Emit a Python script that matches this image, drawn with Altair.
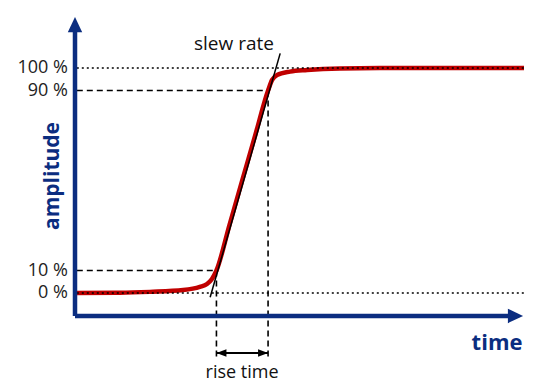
import altair as alt
import pandas as pd

# ---- data (time in arbitrary units 0..100, amplitude in %) ----
curve_t = [0, 10, 16.7, 24.1, 27.8, 29.4, 30.5, 31.5, 34.4, 37.2, 40.1, 43.0, 43.9, 45.0, 47.9, 51.7, 59.0, 67.9, 100]
curve_a = [0, 0.1, 0.5, 1.3, 2.7, 4.0, 6.2, 10, 30.2, 49.7, 69.8, 90, 94.7, 96.9, 98.4, 99.1, 99.8, 100, 100]

slew_t = [30.1, 45.7]
slew_a = [-1.9, 106.5]

level_labels = ["100 %", "90 %", "10 %", "0 %"]
level_values = [100, 90, 10, 0]

dotted_levels = [0, 100]
dashed_levels = [10, 90]
cross_times = [31.5, 43.0]

line_start = 0.4
line_end = 100
drop_to = -29.8
rise_arrow_a = -26.7

x_axis_a = -10.2
y_axis_top = 122.7
x_axis_end = 99.8

NAVY = "#0b2d80"
RED = "#c00000"

xs = alt.Scale(domain=[-14.922, 102.004], nice=False, zero=False)
ys = alt.Scale(domain=[-40.444, 126.667], nice=False, zero=False)


def X(f="t"):
    return alt.X(f"{f}:Q", scale=xs, axis=None)


def Y(f="a"):
    return alt.Y(f"{f}:Q", scale=ys, axis=None)


curve_df = pd.DataFrame({"t": curve_t, "a": curve_a})
curve = alt.Chart(curve_df).mark_line(color=RED, strokeWidth=4.5, interpolate="monotone").encode(
    x=X(), y=Y())

slew_df = pd.DataFrame({"t": slew_t, "a": slew_a})
slew = alt.Chart(slew_df).mark_line(color="black", strokeWidth=1.5).encode(x=X(), y=Y())

dotted_df = pd.DataFrame({"t": [line_start] * 2, "t2": [line_end] * 2, "a": dotted_levels})
dotted = alt.Chart(dotted_df).mark_rule(color="black", strokeWidth=1.6, strokeDash=[2, 3]).encode(
    x=X(), x2="t2:Q", y=Y())

dashed_h_df = pd.DataFrame({"t": [line_start] * 2, "t2": cross_times, "a": dashed_levels})
dashed_h = alt.Chart(dashed_h_df).mark_rule(color="black", strokeWidth=1.6, strokeDash=[6, 4]).encode(
    x=X(), x2="t2:Q", y=Y())

dashed_v_df = pd.DataFrame({"t": cross_times, "a": dashed_levels, "a2": [drop_to] * 2})
dashed_v = alt.Chart(dashed_v_df).mark_rule(color="black", strokeWidth=1.6, strokeDash=[6, 4]).encode(
    x=X(), y=Y(), y2="a2:Q")

# rise time double arrow
rise_df = pd.DataFrame({"t": [cross_times[0]], "t2": [cross_times[1]], "a": [rise_arrow_a]})
rise_line = alt.Chart(rise_df).mark_rule(color="black", strokeWidth=2).encode(x=X(), x2="t2:Q", y=Y())
rise_heads_df = pd.DataFrame({"t": cross_times, "a": [rise_arrow_a] * 2, "side": ["L", "R"]})
rise_left = alt.Chart(rise_heads_df[rise_heads_df.side == "L"]).mark_point(
    shape="M0,0L2,-0.75L2,0.75Z", size=100, filled=True, color="black", opacity=1).encode(x=X(), y=Y())
rise_right = alt.Chart(rise_heads_df[rise_heads_df.side == "R"]).mark_point(
    shape="M0,0L-2,-0.75L-2,0.75Z", size=100, filled=True, color="black", opacity=1).encode(x=X(), y=Y())

# axes
yaxis_df = pd.DataFrame({"t": [0], "a": [x_axis_a], "a2": [y_axis_top - 5]})
yaxis = alt.Chart(yaxis_df).mark_rule(color=NAVY, strokeWidth=4.5).encode(x=X(), y=Y(), y2="a2:Q")
xaxis_df = pd.DataFrame({"t": [0], "t2": [x_axis_end - 2], "a": [x_axis_a]})
xaxis = alt.Chart(xaxis_df).mark_rule(color=NAVY, strokeWidth=4.5).encode(x=X(), x2="t2:Q", y=Y())
up_df = pd.DataFrame({"t": [0], "a": [y_axis_top]})
up_head = alt.Chart(up_df).mark_point(shape="M0,0L-0.9,1.9L0.9,1.9Z", size=256, filled=True,
                                      color=NAVY, opacity=1).encode(x=X(), y=Y())
right_df = pd.DataFrame({"t": [x_axis_end], "a": [x_axis_a]})
right_head = alt.Chart(right_df).mark_point(shape="M0,0L-1.9,-0.9L-1.9,0.9Z", size=256, filled=True,
                                            color=NAVY, opacity=1).encode(x=X(), y=Y())

# texts
lab_df = pd.DataFrame({"t": [-1.6] * 4, "a": level_values, "label": level_labels})
labels = alt.Chart(lab_df).mark_text(align="right", baseline="middle", font="Open Sans", fontSize=18,
                                     color="#222222").encode(x=X(), y=Y(), text="label:N")

slew_txt_df = pd.DataFrame({"t": [35.4], "a": [110.7], "label": ["slew rate"]})
slew_txt = alt.Chart(slew_txt_df).mark_text(align="center", baseline="middle", font="Open Sans",
                                            fontSize=19, color="#111111").encode(
    x=X(), y=Y(), text="label:N")
rise_txt_df = pd.DataFrame({"t": [37.2], "a": [-37.6], "label": ["rise time"]})
rise_txt = alt.Chart(rise_txt_df).mark_text(align="center", baseline="alphabetic", font="Open Sans",
                                            fontSize=18, color="#111111").encode(
    x=X(), y=Y(), text="label:N")

amp_df = pd.DataFrame({"t": [-4.9], "a": [52], "label": ["amplitude"]})
amp = alt.Chart(amp_df).mark_text(align="center", baseline="middle", angle=270, font="Open Sans",
                                  fontSize=21, fontWeight="bold", color=NAVY).encode(
    x=X(), y=Y(), text="label:N")
time_df = pd.DataFrame({"t": [94.0], "a": [-22.2], "label": ["time"]})
timet = alt.Chart(time_df).mark_text(align="center", baseline="middle", font="Open Sans",
                                     fontSize=22, fontWeight="bold", color=NAVY).encode(
    x=X(), y=Y(), text="label:N")

chart = alt.layer(
    dashed_h, dashed_v, curve, slew, dotted, rise_line, rise_left, rise_right,
    yaxis, xaxis, up_head, right_head, labels, slew_txt, rise_txt, amp, timet
).properties(
    width=525, height=376, autosize=alt.AutoSizeParams(type="none"), padding=0
).configure_view(stroke=None)

chart.save("out.html", embed_options={"renderer": "svg", "actions": False})
